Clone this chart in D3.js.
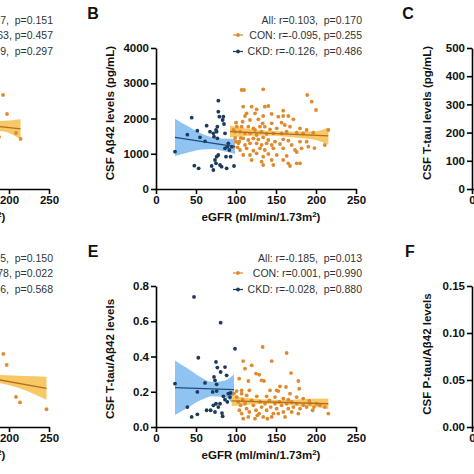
<!DOCTYPE html>
<html><head><meta charset="utf-8">
<script src="https://cdn.jsdelivr.net/npm/d3@7"></script>
<style>body{margin:0;background:#fff} svg{display:block} text{font-family:"Liberation Sans",Arial,sans-serif}</style>
</head><body><svg id="c" width="474" height="474"></svg>
<script>
// ---------- tick labels ----------
const xTicks = [0, 50, 100, 150, 200, 250];
const xTicksRightEdge = [200, 250];   // visible ticks of the cropped left panels
const xTicksLeftEdge = [0];           // visible tick of the cropped right panels
const bTicks = [0, 1000, 2000, 3000, 4000];
const cTicks = [0, 100, 200, 300, 400, 500];
const eTicks = [0, 0.2, 0.4, 0.6, 0.8];
const fTicks = [0, 0.05, 0.10, 0.15];

// ---------- panel A (only right edge visible) ----------
const aConX = [192.5, 197.5, 208.75, 214.4, 187.5];
const aConY = [0.667, 0.532, 0.397, 0.355, 0.369];
const aConLine = [[180, 0.448], [214.4, 0.426]];
const aConBand = [[180, 0.405, 0.49], [188.75, 0.411, 0.482], [214.4, 0.352, 0.494]];
const aLegend = ["All: r=-0.107,  p=0.151", "CON: r=-0.063, p=0.457", "CKD: r=0.189,  p=0.297"];

// ---------- panel B ----------
const bCkdX = [23.75,39.2,44.6,47.9,51.7,53.3,55,61.25,63.3,67.5,71.7,72.5,75,75.8,76.7,77.9,77.9,79.2,76.7,69.6,71.7,73.75,75,75.8,77.9,80,82,83.3,84.2,85,86.25,86.25,87.5,88.3,89.2,90.4,91.7,93.3,94.6,97.5];
const bCkdY = [1059,1541,2024,662,1655,586,1466,1352,1797,1626,1579,1485,1674,1626,1768,2506,2194,2052,1437,652,539,823,728,917,965,681,634,1957,2052,1844,1579,1154,917,586,1201,1296,1106,917,1201,652];
const bConX = [107,110,134,189,194.6,200,109,119.6,125.8,136,140.4,113.3,111.25,123.75,134,144.6,159,159,165.4,171.7,152.9,100,108.3,117.5,127.9,133.3,144.6,157,161,180,188.3,101,107,115.4,121.7,130,136,142.5,150.9,167.5,175.9,184,196.6,215.4,96.7,105,111.25,117.5,123.75,125.8,132,138.3,146.7,157,163.3,109,115.4,121.7,127.9,134,140.4,148.75,159,165.4,180,188.3,103,111.25,117.5,125.8,132,138.3,144.6,155,169.6,105,113.3,121.7,130,136,146.7,159,173.75,182,190.4,211,109,117.5,125.8,134,140.4,150.9,163.3,119.6,132,144.6,159,175.9,165.4,134,146.7,167.5,180,98.75,100,97,99,102,104,106,176,198];
const bConY = [2809,2809,2827,2667,2477,2241,2335,2335,2260,2335,2354,2147,2071,2147,2071,2128,2222,2071,2071,1977,2052,1882,1910,1957,1977,1863,1863,1882,1815,1721,1674,1768,1768,1768,1721,1768,1768,1693,1721,1768,1598,1579,1598,1674,1674,1627,1579,1579,1674,1532,1627,1560,1579,1579,1627,1438,1390,1438,1410,1466,1390,1343,1410,1371,1343,1343,1296,1248,1296,1296,1248,1296,1248,1277,1248,1106,1154,1087,1154,1106,1154,1154,1106,1154,1201,1248,965,965,1012,917,993,965,937,823,776,823,823,729,729,681,681,653,729,1627,1343,1200,1450,1180,1350,1450,1050,1160];
const bCkdLine = [[23.75, 1466], [98.75, 1201]];
const bCkdBand = [[23.75,936,1996],[40,1039,1779],[55,1116,1596],[71,1134,1464],[85,1070,1430],[98.75,990,1420]];
const bConLine = [[92.5, 1630], [215.4, 1505]];
const bConBand = [[92.5,1460,1800],[110,1500,1720],[130,1515,1665],[145,1512,1642],[160,1492,1632],[180,1450,1630],[200,1390,1640],[215.4,1265,1745]];
const bLegend = ["All: r=0.103,  p=0.170", "CON: r=-0.095, p=0.255", "CKD: r=-0.126,  p=0.486"];

// ---------- panel D (only right edge visible) ----------
const dConX = [192.9, 197.1, 208.75, 213.75, 246.9];
const dConY = [0.518, 0.440, 0.213, 0.174, 0.126];
const dConLine = [[180, 0.342], [246.9, 0.274]];
const dConBand = [[180,0.315,0.372],[188.75,0.31,0.369],[220,0.26,0.362],[246.9,0.191,0.357]];
const dLegend = ["All: r=0.105,  p=0.150", "CON: r=-0.178, p=0.022", "CKD: r=0.096,  p=0.568"];

// ---------- panel E ----------
const eCkdX = [23.75,47.5,80.8,98.75,52.9,75,76.7,80.8,86.25,88.3,72.5,73.75,75.8,61.25,51.7,70.8,75.8,90.4,84.2,86.25,89.2,80,75,71.7,77.9,63.3,68.3,73.75,82.5,83.3,39.2,44.6,51.7,92.5,93.3];
const eCkdY = [0.246,0.738,0.592,0.444,0.393,0.369,0.337,0.312,0.340,0.293,0.284,0.265,0.242,0.25,0.199,0.199,0.204,0.189,0.174,0.155,0.142,0.132,0.132,0.123,0.113,0.095,0.095,0.085,0.079,0.061,0.113,0.057,0.072,0.170,0.193];
const eConX = [133.3,163.3,144.6,109,119.6,111.25,168.75,125,129,132,135,115.4,104,177.9,155,162.5,179,107,116.7,142.5,150.8,152.9,167.5,175.8,184,191.7,200.8,211,215.4,195.8,100.8,102.9,105.8,108.3,111.25,113.3,116.7,119.6,121.7,125,126.7,130,132,134,136.25,138.3,141.7,143.3,146.7,148.75,150.8,154.2,157,159.2,163.3,165.4,169.6,171.7,175.8,180,184,188.3,192.5,197.5,205,104.2,107,109,115.4,123.75,129,139.2,144.6,152.9,161.25,169.6,177.9,97.5,100.8,107,113.3,126,138.3,148.75,159.2,165.4];
const eConY = [0.454,0.420,0.374,0.374,0.350,0.331,0.306,0.303,0.297,0.265,0.261,0.261,0.274,0.261,0.231,0.227,0.217,0.208,0.208,0.208,0.208,0.204,0.189,0.170,0.161,0.148,0.132,0.113,0.076,0.095,0.170,0.142,0.123,0.155,0.132,0.104,0.085,0.151,0.123,0.095,0.066,0.142,0.113,0.057,0.132,0.095,0.151,0.113,0.076,0.132,0.104,0.142,0.123,0.085,0.132,0.104,0.142,0.113,0.132,0.104,0.123,0.113,0.132,0.113,0.123,0.095,0.076,0.047,0.057,0.047,0.076,0.047,0.057,0.076,0.057,0.085,0.076,0.189,0.204,0.189,0.180,0.174,0.174,0.170,0.161,0.155];
const eCkdLine = [[23.75, 0.223], [97.5, 0.212]];
const eCkdBand = [[23.75,0.068,0.378],[40,0.110,0.330],[55,0.150,0.285],[70,0.175,0.255],[85,0.170,0.262],[97.5,0.124,0.300]];
const eConLine = [[94.6, 0.148], [215.4, 0.132]];
const eConBand = [[94.6,0.118,0.178],[120,0.128,0.162],[145,0.130,0.155],[170,0.124,0.155],[195,0.115,0.160],[215.4,0.102,0.162]];
const eLegend = ["All: r=-0.185,  p=0.013", "CON: r=0.001, p=0.990", "CKD: r=-0.028,  p=0.880"];

// ---------- styles ----------
const ORANGE = "#E08A2C", ORANGE_LINE = "#B06E22", ORANGE_BAND = "#F9C866";
const BLUE = "#1C3A5E", BLUE_LINE = "#1F4B7C", BLUE_BAND = "#8FC4F2";
const FONT_B = "bold 11.5px 'Liberation Sans', Arial, sans-serif";

const svg = d3.select("#c");

function makeX(x0) { return d3.scaleLinear().domain([0, 250]).range([x0, x0 + 200]); }

function drawXAxis(x, yPix, ticks) {
  const g = svg.append("g").attr("transform", `translate(0,${yPix})`)
    .call(d3.axisBottom(x).tickValues(ticks).tickSize(5).tickSizeOuter(0).tickPadding(2).tickFormat(d3.format("d")));
  g.select(".domain").attr("stroke", "#000").attr("stroke-width", 1.6);
  g.selectAll(".tick line").attr("stroke", "#000").attr("stroke-width", 1.6);
  g.selectAll("text").attr("fill", "#111").style("font", FONT_B);
}
function drawYAxis(y, xPix, ticks, fmt) {
  const g = svg.append("g").attr("transform", `translate(${xPix},0)`)
    .call(d3.axisLeft(y).tickValues(ticks).tickSize(5).tickSizeOuter(0).tickPadding(2).tickFormat(fmt));
  g.select(".domain").attr("stroke", "#000").attr("stroke-width", 1.6);
  g.selectAll(".tick line").attr("stroke", "#000").attr("stroke-width", 1.6);
  g.selectAll("text").attr("fill", "#111").style("font", FONT_B);
}
function band(x, y, data, color) {
  svg.append("path").datum(data)
    .attr("d", d3.area().x(d => x(d[0])).y0(d => y(d[1])).y1(d => y(d[2])).curve(d3.curveMonotoneX))
    .attr("fill", color).attr("stroke", "none");
}
function dots(x, y, xs, ys, color) {
  svg.append("g").selectAll("circle").data(xs.map((v, i) => [v, ys[i]])).join("circle")
    .attr("cx", d => x(d[0])).attr("cy", d => y(d[1])).attr("r", 1.9).attr("fill", color);
}
function fitLine(x, y, data, color) {
  svg.append("path").datum(data).attr("d", d3.line().x(d => x(d[0])).y(d => y(d[1])))
    .attr("stroke", color).attr("stroke-width", 1.3).attr("fill", "none");
}
function legend(xEnd, yTop, lines, markers) {
  const dy = [0, 14.5, 31];
  lines.forEach((t, i) => {
    svg.append("text").attr("x", xEnd).attr("y", yTop + dy[i]).attr("text-anchor", "end")
      .style("white-space", "pre").style("font", "10.5px 'Liberation Sans', Arial, sans-serif")
      .attr("fill", "#333").text(t);
  });
  if (markers) {
    [[ORANGE, 1], [BLUE, 2]].forEach(([c, i]) => {
      const yy = yTop + dy[i] - 3.5;
      svg.append("line").attr("x1", xEnd - 129).attr("x2", xEnd - 119).attr("y1", yy).attr("y2", yy)
        .attr("stroke", c).attr("stroke-width", 1.2);
      svg.append("circle").attr("cx", xEnd - 124).attr("cy", yy).attr("r", 1.9).attr("fill", c);
    });
  }
}
function letter(t, x, y) {
  svg.append("text").attr("x", x).attr("y", y).attr("text-anchor", "middle")
    .style("font", "bold 16px 'Liberation Sans', Arial, sans-serif").attr("fill", "#111").text(t);
}
function yTitle(t, x, y) {
  svg.append("text").attr("transform", `translate(${x},${y}) rotate(-90)`).attr("text-anchor", "middle")
    .attr("dominant-baseline", "middle").style("font", FONT_B).attr("fill", "#111").text(t);
}
function xTitle(cx, y) {
  const t = svg.append("text").attr("x", cx).attr("y", y).attr("text-anchor", "middle")
    .style("font", FONT_B).attr("fill", "#111");
  t.append("tspan").text("eGFR (ml/min/1.73m");
  t.append("tspan").attr("dy", -4).style("font-size", "8px").text("2");
  t.append("tspan").attr("dy", 4).text(")");
}

const rows = [{y0: 189, y1: 48}, {y0: 427, y1: 286}];

// ===== Panel A =====
{
  const x = makeX(-151), y = d3.scaleLinear().domain([0, 1]).range([rows[0].y0, rows[0].y1]);
  band(x, y, aConBand, ORANGE_BAND);
  dots(x, y, aConX, aConY, ORANGE);
  fitLine(x, y, aConLine, ORANGE_LINE);
  drawXAxis(x, rows[0].y0, xTicksRightEdge);
  xTitle(-54, 221);
  legend(53, 24, aLegend, false);
}
// ===== Panel B =====
{
  const x = makeX(156), y = d3.scaleLinear().domain([0, 4000]).range([rows[0].y0, rows[0].y1]);
  band(x, y, bCkdBand, BLUE_BAND);
  band(x, y, bConBand, ORANGE_BAND);
  dots(x, y, bConX, bConY, ORANGE);
  dots(x, y, bCkdX, bCkdY, BLUE);
  fitLine(x, y, bCkdLine, BLUE_LINE);
  fitLine(x, y, bConLine, ORANGE_LINE);
  drawXAxis(x, rows[0].y0, xTicks);
  drawYAxis(y, 156, bTicks, d3.format("d"));
  xTitle(261, 221);
  yTitle("CSF A\u03b242 levels (pg/mL)", 111, 113);
  letter("B", 93, 19);
  legend(362, 24, bLegend, true);
}
// ===== Panel C =====
{
  const x = makeX(472), y = d3.scaleLinear().domain([0, 500]).range([rows[0].y0, rows[0].y1]);
  drawXAxis(x, rows[0].y0, xTicksLeftEdge);
  drawYAxis(y, 472, cTicks, d3.format("d"));
  yTitle("CSF T-tau levels (pg/mL)", 428, 113);
  letter("C", 408, 19);
}
// ===== Panel D =====
{
  const x = makeX(-151), y = d3.scaleLinear().domain([0, 1]).range([rows[1].y0, rows[1].y1]);
  band(x, y, dConBand, ORANGE_BAND);
  dots(x, y, dConX, dConY, ORANGE);
  fitLine(x, y, dConLine, ORANGE_LINE);
  drawXAxis(x, rows[1].y0, xTicksRightEdge);
  xTitle(-54, 459);
  legend(53, 262, dLegend, false);
}
// ===== Panel E =====
{
  const x = makeX(156), y = d3.scaleLinear().domain([0, 0.8]).range([rows[1].y0, rows[1].y1]);
  band(x, y, eCkdBand, BLUE_BAND);
  band(x, y, eConBand, ORANGE_BAND);
  dots(x, y, eConX, eConY, ORANGE);
  dots(x, y, eCkdX, eCkdY, BLUE);
  fitLine(x, y, eCkdLine, BLUE_LINE);
  fitLine(x, y, eConLine, ORANGE_LINE);
  drawXAxis(x, rows[1].y0, xTicks);
  drawYAxis(y, 156, eTicks, d3.format(".1f"));
  xTitle(261, 459);
  yTitle("CSF T-tau/A\u03b242 levels", 111, 359);
  letter("E", 93, 257);
  legend(362, 262, eLegend, true);
}
// ===== Panel F =====
{
  const x = makeX(472), y = d3.scaleLinear().domain([0, 0.15]).range([rows[1].y0, rows[1].y1]);
  drawXAxis(x, rows[1].y0, xTicksLeftEdge);
  drawYAxis(y, 472, fTicks, d3.format(".2f"));
  yTitle("CSF P-tau/A\u03b242 levels", 428, 354);
  letter("F", 410, 257);
}
</script></body></html>
